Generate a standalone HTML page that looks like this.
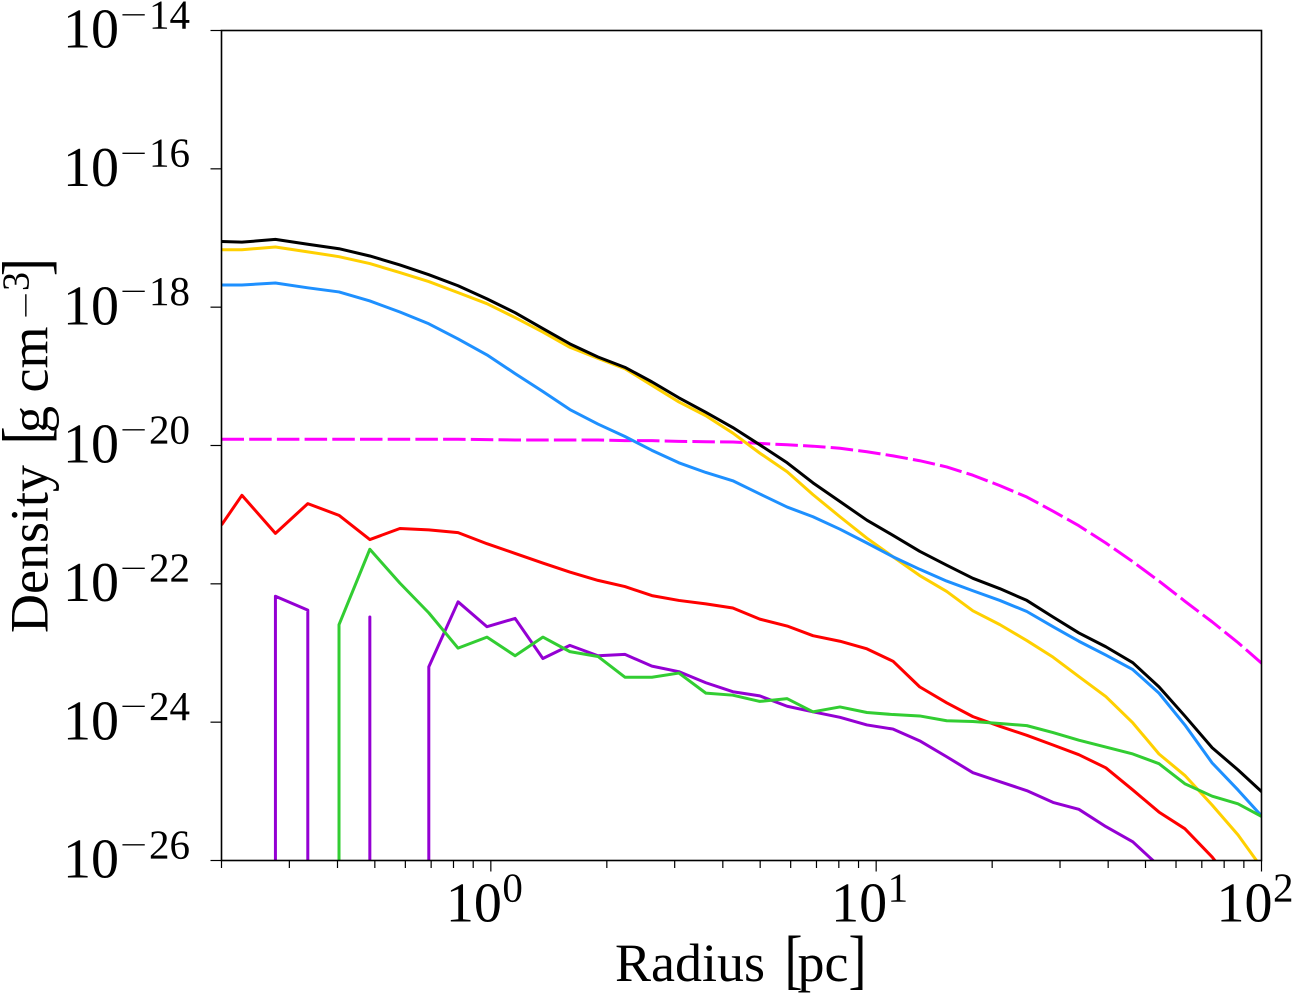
<!DOCTYPE html>
<html lang="en">
<head>
<meta charset="utf-8">
<title>Density vs Radius</title>
<style>
html,body{margin:0;padding:0;background:#fff;}
svg{display:block;font-family:"Liberation Serif",serif;fill:#000;}
</style>
</head>
<body>
<svg id="chart" xmlns="http://www.w3.org/2000/svg" width="1300" height="1000" viewBox="0 0 1300 1000">
  <defs><clipPath id="plot-clip"><rect x="221.5" y="30.5" width="1040" height="830"/></clipPath></defs>
  <g id="series" clip-path="url(#plot-clip)"></g>
  <rect x="221.5" y="30.5" width="1040" height="830" fill="none" stroke="#000" stroke-width="1.6"/>
  <g id="ticks"></g>
  <g font-size="54">
    <text x="615" y="981">Radius</text>
    <text transform="translate(784.5 981) scale(1 1.22)">[</text>
    <text x="797.5" y="981">pc</text>
    <text transform="translate(848.5 981) scale(1 1.22)">]</text>
  </g>
  <g transform="translate(47.3 633) rotate(-90)" font-size="54">
    <text x="0" y="0">Density</text>
    <text transform="translate(188.6 0) scale(1 1.22)">[</text>
    <text x="200" y="0">g cm</text>
    <text transform="translate(314 -12) scale(1 0.6)" font-size="48">−</text>
    <text x="342" y="-19" font-size="38">3</text>
    <text transform="translate(356.8 0) scale(1 1.22)">]</text>
  </g>
</svg>
<script>
// Radii of the profile bins, log10(r / pc)
const logRadius = [-0.699,-0.646,-0.559,-0.475,-0.394,-0.314,-0.236,-0.161,-0.085,-0.010,
  0.063,0.135,0.205,0.278,0.348,0.418,0.488,0.558,0.628,0.698,
  0.769,0.836,0.906,0.976,1.044,1.113,1.183,1.251,1.321,1.391,
  1.459,1.526,1.596,1.666,1.734,1.801,1.872,1.939,2.009];

// Density per bin, log10(rho / g cm^-3); null = empty bin
const totalDensity = [-17.05,-17.06,-17.02,-17.09,-17.155,-17.26,-17.39,-17.53,-17.69,-17.88,
  -18.08,-18.31,-18.53,-18.72,-18.87,-19.08,-19.31,-19.52,-19.74,-19.99,
  -20.25,-20.54,-20.81,-21.08,-21.30,-21.53,-21.73,-21.92,-22.07,-22.24,
  -22.48,-22.71,-22.91,-23.14,-23.49,-23.91,-24.37,-24.69,-25.05];
const yellowDensity = [-17.17,-17.17,-17.13,-17.20,-17.27,-17.37,-17.50,-17.63,-17.79,-17.95,
  -18.15,-18.36,-18.58,-18.74,-18.89,-19.13,-19.37,-19.57,-19.82,-20.11,
  -20.38,-20.71,-21.03,-21.34,-21.61,-21.88,-22.11,-22.39,-22.59,-22.82,
  -23.06,-23.34,-23.63,-24.01,-24.46,-24.77,-25.20,-25.63,-26.17];
const blueDensity = [-17.68,-17.68,-17.65,-17.72,-17.78,-17.91,-18.07,-18.24,-18.46,-18.69,
  -18.96,-19.22,-19.48,-19.69,-19.87,-20.07,-20.25,-20.39,-20.51,-20.70,
  -20.89,-21.03,-21.21,-21.41,-21.61,-21.79,-21.96,-22.10,-22.24,-22.40,
  -22.62,-22.83,-23.03,-23.24,-23.58,-24.04,-24.59,-24.98,-25.41];
const redDensity = [-21.15,-20.72,-21.27,-20.84,-21.01,-21.36,-21.20,-21.22,-21.26,-21.42,
  -21.56,-21.70,-21.83,-21.95,-22.04,-22.17,-22.24,-22.29,-22.35,-22.51,
  -22.61,-22.75,-22.83,-22.94,-23.12,-23.49,-23.72,-23.92,-24.06,-24.19,
  -24.33,-24.47,-24.66,-24.98,-25.30,-25.54,-25.95,-26.43,-26.79];
const greenDensity = [null,null,null,null,-22.59,-21.50,-21.99,-22.42,-22.93,-22.77,
  -23.04,-22.77,-22.98,-23.05,-23.35,-23.35,-23.29,-23.58,-23.61,-23.70,
  -23.66,-23.85,-23.78,-23.86,-23.89,-23.91,-23.98,-23.99,-24.02,-24.05,
  -24.15,-24.26,-24.36,-24.46,-24.60,-24.89,-25.07,-25.18,-25.39];
const purpleDensity = [null,null,-22.18,-22.38,null,-22.48,null,-23.20,-22.26,-22.62,
  -22.50,-23.08,-22.89,-23.04,-23.02,-23.19,-23.27,-23.43,-23.56,-23.62,
  -23.77,-23.85,-23.93,-24.04,-24.10,-24.27,-24.50,-24.73,-24.86,-24.99,
  -25.16,-25.26,-25.51,-25.73,-26.08,-26.50,null,null,null];
const analyticDensity = [-19.91,-19.91,-19.91,-19.91,-19.91,-19.91,-19.91,-19.91,-19.91,-19.915,
  -19.92,-19.92,-19.92,-19.92,-19.93,-19.93,-19.94,-19.945,-19.95,-19.97,
  -19.99,-20.01,-20.04,-20.09,-20.15,-20.22,-20.31,-20.43,-20.58,-20.745,
  -20.95,-21.16,-21.41,-21.68,-21.96,-22.25,-22.55,-22.85,-23.19];

// Axis ticks
const yTickExponents = ["-14","-16","-18","-20","-22","-24","-26"];
const xTickExponents = ["0","1","2"];
const xMinorRadii = [0.2,0.3,0.4,0.5,0.6,0.7,0.8,0.9,2,3,4,5,6,7,8,9,20,30,40,50,60,70,80,90];

const xLeft = 221.5, xRight = 1261.5, yTop = 30.5, yBottom = 860.5;
const xMin = Math.log10(0.2), xMax = 2, yMin = -26, yMax = -14;
function xScale(logR){ return xLeft + (logR - xMin) / (xMax - xMin) * (xRight - xLeft); }
function yScale(logD){ return yBottom - (logD - yMin) / (yMax - yMin) * (yBottom - yTop); }

const NS = "http://www.w3.org/2000/svg";
const seriesGroup = document.getElementById("series");
const tickGroup = document.getElementById("ticks");
const svgRoot = document.getElementById("chart");

// A run starting or ending next to an empty bin drops vertically off the axis.
function buildPath(values){
  let d = "", open = false, last = null;
  values.forEach(function(v, i){
    const x = xScale(logRadius[i]).toFixed(2);
    if (v === null) {
      if (open) { d += " L" + last + " " + (yBottom + 10); open = false; }
      return;
    }
    const y = yScale(v).toFixed(2);
    if (!open) {
      d += i === 0 ? " M" + x + " " + y : " M" + x + " " + (yBottom + 10) + " L" + x + " " + y;
      open = true;
    } else {
      d += " L" + x + " " + y;
    }
    last = x;
  });
  return d.trim();
}

function addSeries(values, color, width, dash){
  const p = document.createElementNS(NS, "path");
  p.setAttribute("d", buildPath(values));
  p.setAttribute("fill", "none");
  p.setAttribute("stroke", color);
  p.setAttribute("stroke-width", width);
  p.setAttribute("stroke-linejoin", "round");
  if (dash) p.setAttribute("stroke-dasharray", dash);
  seriesGroup.appendChild(p);
  return p;
}

let line;
line = addSeries(analyticDensity, "#ff00ff", 3, "22.5 5.2");


line = addSeries(purpleDensity, "#9400d3", 3);


line = addSeries(redDensity, "#ff0000", 3);


line = addSeries(yellowDensity, "#ffd000", 3);


line = addSeries(totalDensity, "#000000", 3);


line = addSeries(blueDensity, "#1e90ff", 3);


line = addSeries(greenDensity, "#32cd32", 3);



function addTick(x1, y1, x2, y2){
  const t = document.createElementNS(NS, "line");
  t.setAttribute("x1", x1);
  t.setAttribute("y1", y1);
  t.setAttribute("x2", x2);
  t.setAttribute("y2", y2);
  t.setAttribute("stroke", "#000");
  t.setAttribute("stroke-width", "1.2");
  tickGroup.appendChild(t);
  return t;
}

function addSpan(parent, content, x, y, size){
  const s = document.createElementNS(NS, "tspan");
  s.setAttribute("x", x);
  s.setAttribute("y", y);
  s.setAttribute("font-size", size);
  s.textContent = content;
  parent.appendChild(s);
}

yTickExponents.forEach(function(expo){
  const y = yScale(Number(expo));
  const mark = addTick(210.5, y, xLeft, y);
  
  
  const label = document.createElementNS(NS, "text");
  
  
  addSpan(label, "10", 63, y + 17.2, 56);
  addSpan(label, expo.slice(1), 149, y - 2.2, 41);
  svgRoot.appendChild(label);
  const minus = document.createElementNS(NS, "text");
  
  
  minus.setAttribute("transform", "translate(120 " + (y - 6) + ") scale(1 0.6)");
  minus.setAttribute("font-size", "48");
  minus.textContent = "\u2212";
  svgRoot.appendChild(minus);
});

xTickExponents.forEach(function(expo){
  const x = xScale(Number(expo));
  const mark = addTick(x, yBottom, x, 871.5);
  
  
  const label = document.createElementNS(NS, "text");
  
  
  addSpan(label, "10", x - 45, 921.7, 56);
  addSpan(label, expo, x + 11.5, 901.7, 41);
  svgRoot.appendChild(label);
});

xMinorRadii.forEach(function(r){
  const x = xScale(Math.log10(r));
  const mark = addTick(x, yBottom, x, 868);
  
  
});
</script>
</body>
</html>
